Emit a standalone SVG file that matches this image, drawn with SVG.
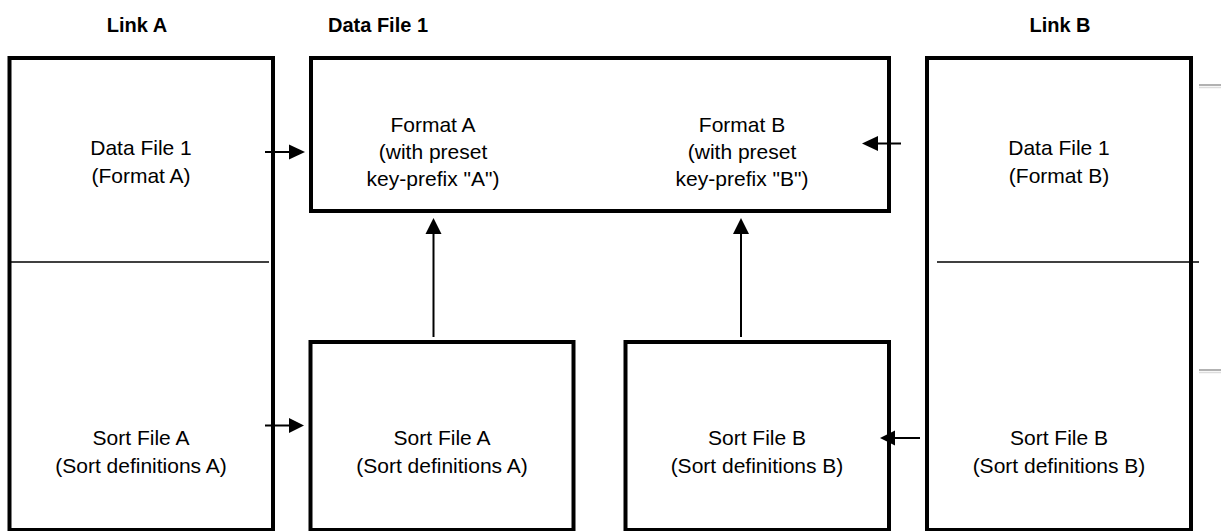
<svg xmlns="http://www.w3.org/2000/svg" width="1221" height="531" viewBox="0 0 1221 531">
<style>
.box{fill:none;stroke:#000;stroke-width:4}
.div{stroke:#000;stroke-width:1.6}
.t{font-family:"Liberation Sans",Arial,sans-serif;font-size:21px;text-anchor:middle;fill:#000}
.h{font-family:"Liberation Sans",Arial,sans-serif;font-size:20px;font-weight:bold;text-anchor:middle;fill:#000}
.c{stroke:#000;stroke-width:2;fill:none}
.ah{fill:#000}
</style>
<rect width="1221" height="531" fill="#fff"/>
<g id="titles">
<text class="h" x="137" y="32">Link A</text>
<text class="h" x="378" y="32">Data File 1</text>
<text class="h" x="1060" y="32">Link B</text>
</g>
<g id="linkA">
<rect class="box" x="9.5" y="58" width="263.5" height="472"/>
<line class="div" x1="11" y1="262" x2="269" y2="262"/>
<text class="t" x="141" y="155">Data File 1</text>
<text class="t" x="141" y="183">(Format A)</text>
<text class="t" x="141" y="445">Sort File A</text>
<text class="t" x="141" y="473">(Sort definitions A)</text>
</g>
<g id="datafile1">
<rect class="box" x="311" y="58" width="578" height="153"/>
<text class="t" x="433" y="132">Format A</text>
<text class="t" x="433" y="159">(with preset</text>
<text class="t" x="433" y="186">key-prefix "A")</text>
<text class="t" x="742" y="132">Format B</text>
<text class="t" x="742" y="159">(with preset</text>
<text class="t" x="742" y="186">key-prefix "B")</text>
</g>
<g id="sortA">
<rect class="box" x="310.5" y="342" width="263" height="188"/>
<text class="t" x="442" y="445">Sort File A</text>
<text class="t" x="442" y="473">(Sort definitions A)</text>
</g>
<g id="sortB">
<rect class="box" x="625.5" y="342" width="263.5" height="188"/>
<text class="t" x="757" y="445">Sort File B</text>
<text class="t" x="757" y="473">(Sort definitions B)</text>
</g>
<g id="linkB">
<rect class="box" x="927" y="58" width="264" height="472"/>
<line class="div" x1="937" y1="262" x2="1199" y2="262"/>
<text class="t" x="1059" y="155">Data File 1</text>
<text class="t" x="1059" y="183">(Format B)</text>
<text class="t" x="1059" y="445">Sort File B</text>
<text class="t" x="1059" y="473">(Sort definitions B)</text>
</g>
<g id="marks">
<line x1="1199" y1="85" x2="1221" y2="85" stroke="#999" stroke-width="1.5"/>
<line x1="1199" y1="87.5" x2="1221" y2="87.5" stroke="#ddd" stroke-width="1.5"/>
<line x1="1199" y1="370" x2="1221" y2="370" stroke="#999" stroke-width="1.5"/>
<line x1="1199" y1="372.5" x2="1221" y2="372.5" stroke="#ddd" stroke-width="1.5"/>
</g>
<g id="connectors">
<line class="c" x1="265" y1="152" x2="291" y2="152"/>
<polygon class="ah" points="305,152 289,144.5 289,159.5"/>
<line class="c" x1="901" y1="143.5" x2="876" y2="143.5"/>
<polygon class="ah" points="862,143.5 878,136 878,151"/>
<line class="c" x1="265" y1="425.5" x2="290" y2="425.5"/>
<polygon class="ah" points="304,425.5 289,418 289,433"/>
<line class="c" x1="920" y1="438" x2="894" y2="438"/>
<polygon class="ah" points="880,438 895,430.5 895,445.5"/>
<line class="c" x1="433.5" y1="337" x2="433.5" y2="232"/>
<polygon class="ah" points="433.5,218 425.5,234 441.5,234"/>
<line class="c" x1="741" y1="337" x2="741" y2="232"/>
<polygon class="ah" points="741,218 733,234 749,234"/>
</g>
</svg>
